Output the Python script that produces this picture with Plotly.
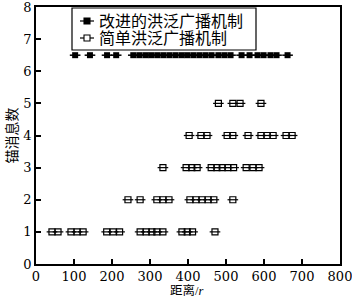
import plotly.graph_objects as go

# Improved flooding broadcast (filled squares), all at y = 6.5
improved_x = [103, 142, 187, 211, 256, 272, 288, 303, 319, 335, 351, 367, 383, 398,
              414, 430, 446, 462, 480, 496, 512, 541, 562, 583, 599, 617, 633, 662]
improved_y = [6.5] * len(improved_x)

# Simple flooding broadcast (open squares)
simple_x = [42, 58, 92, 108, 124, 186, 203, 220, 274, 290, 305, 318, 334, 384, 398, 412, 471,
            242, 274, 318, 334, 350, 405, 421, 437, 453, 468, 518,
            334, 395, 410, 424, 461, 476, 490, 505, 520, 553, 571, 587,
            403, 434, 450, 503, 518, 558, 592, 608, 624, 658, 674,
            480, 518, 537, 592]
simple_y = [1] * 17 + [2] * 11 + [3] * 12 + [4] * 11 + [5] * 4

series_names = ["改进的洪泛广播机制", "简单洪泛广播机制"]
x_ticks = [0, 100, 200, 300, 400, 500, 600, 700, 800]
y_ticks = [0, 1, 2, 3, 4, 5, 6, 7, 8]
x_title = "距离/<i>r</i>"
y_title = "锚消息数"

num_font = "DejaVu Serif, Liberation Serif, serif"
cjk_font = "Liberation Serif, Noto Sans CJK SC, serif"

fig = go.Figure()
fig.add_trace(go.Scatter(
    x=improved_x, y=improved_y, mode="markers", name=series_names[0],
    marker=dict(symbol="square", size=6, color="black"),
    error_x=dict(type="constant", value=14, width=0, color="black", thickness=1.5),
    showlegend=False,
))
fig.add_trace(go.Scatter(
    x=simple_x, y=simple_y, mode="markers", name=series_names[1],
    marker=dict(symbol="square-open", size=6, color="black", line=dict(width=1.2)),
    error_x=dict(type="constant", value=14, width=0, color="black", thickness=1.2),
    showlegend=False,
))

axis_common = dict(
    showgrid=False, zeroline=False, showline=True, linecolor="black", linewidth=1.5,
    mirror=True, ticks="inside", ticklen=5, tickwidth=1.5, tickcolor="black",
    tickfont=dict(family=num_font, size=13, color="black"),
    ticklabeloverflow="allow", automargin=False,
)
fig.update_xaxes(range=[0, 800], tickvals=x_ticks, **axis_common)
fig.update_yaxes(range=[0, 8], tickvals=y_ticks, **axis_common,
                 title=dict(text=y_title, font=dict(family=cjk_font, size=14, color="black"),
                            standoff=2))

# Hand-drawn legend (box, symbols, texts) in paper coordinates
TOP, BOTTOM = 7, 264
W, H = 304.0, float(BOTTOM - TOP)  # plot-area size in px
def px_x(p):
    return (p - 36) / W
def px_y(p):
    return (BOTTOM - p) / H

shapes = [dict(type="rect", xref="paper", yref="paper",
               x0=px_x(72), x1=px_x(256), y0=px_y(50), y1=px_y(8),
               line=dict(color="black", width=1.2), fillcolor="white", layer="above")]
annotations = []
legend_rows = [(21, "black"), (38, "white")]
for (row_y, fill), name in zip(legend_rows, series_names):
    shapes.append(dict(type="line", xref="paper", yref="paper",
                       x0=px_x(80), x1=px_x(94), y0=px_y(row_y), y1=px_y(row_y),
                       line=dict(color="black", width=1.2), layer="above"))
    shapes.append(dict(type="rect", xref="paper", yref="paper",
                       x0=px_x(84), x1=px_x(90), y0=px_y(row_y + 3), y1=px_y(row_y - 3),
                       line=dict(color="black", width=1.1), fillcolor=fill, layer="above"))
    annotations.append(dict(xref="paper", yref="paper", x=px_x(97), y=px_y(row_y),
                            xanchor="left", yanchor="middle", showarrow=False, text=name,
                            font=dict(family=cjk_font, size=16, color="black")))

# x-axis title placed just under the tick labels
annotations.append(dict(xref="paper", yref="paper", x=px_x(186), y=px_y(300),
                        xanchor="center", yanchor="bottom", showarrow=False, text=x_title,
                        font=dict(family=cjk_font, size=12.5, color="black")))

fig.update_layout(
    width=352, height=298,
    margin=dict(l=36, r=12, t=TOP, b=298 - BOTTOM),
    plot_bgcolor="white", paper_bgcolor="white",
    shapes=shapes, annotations=annotations,
    showlegend=False,
)

fig.write_html("out.html", config={"displayModeBar": False},
               post_script="document.body.style.margin='0';")
